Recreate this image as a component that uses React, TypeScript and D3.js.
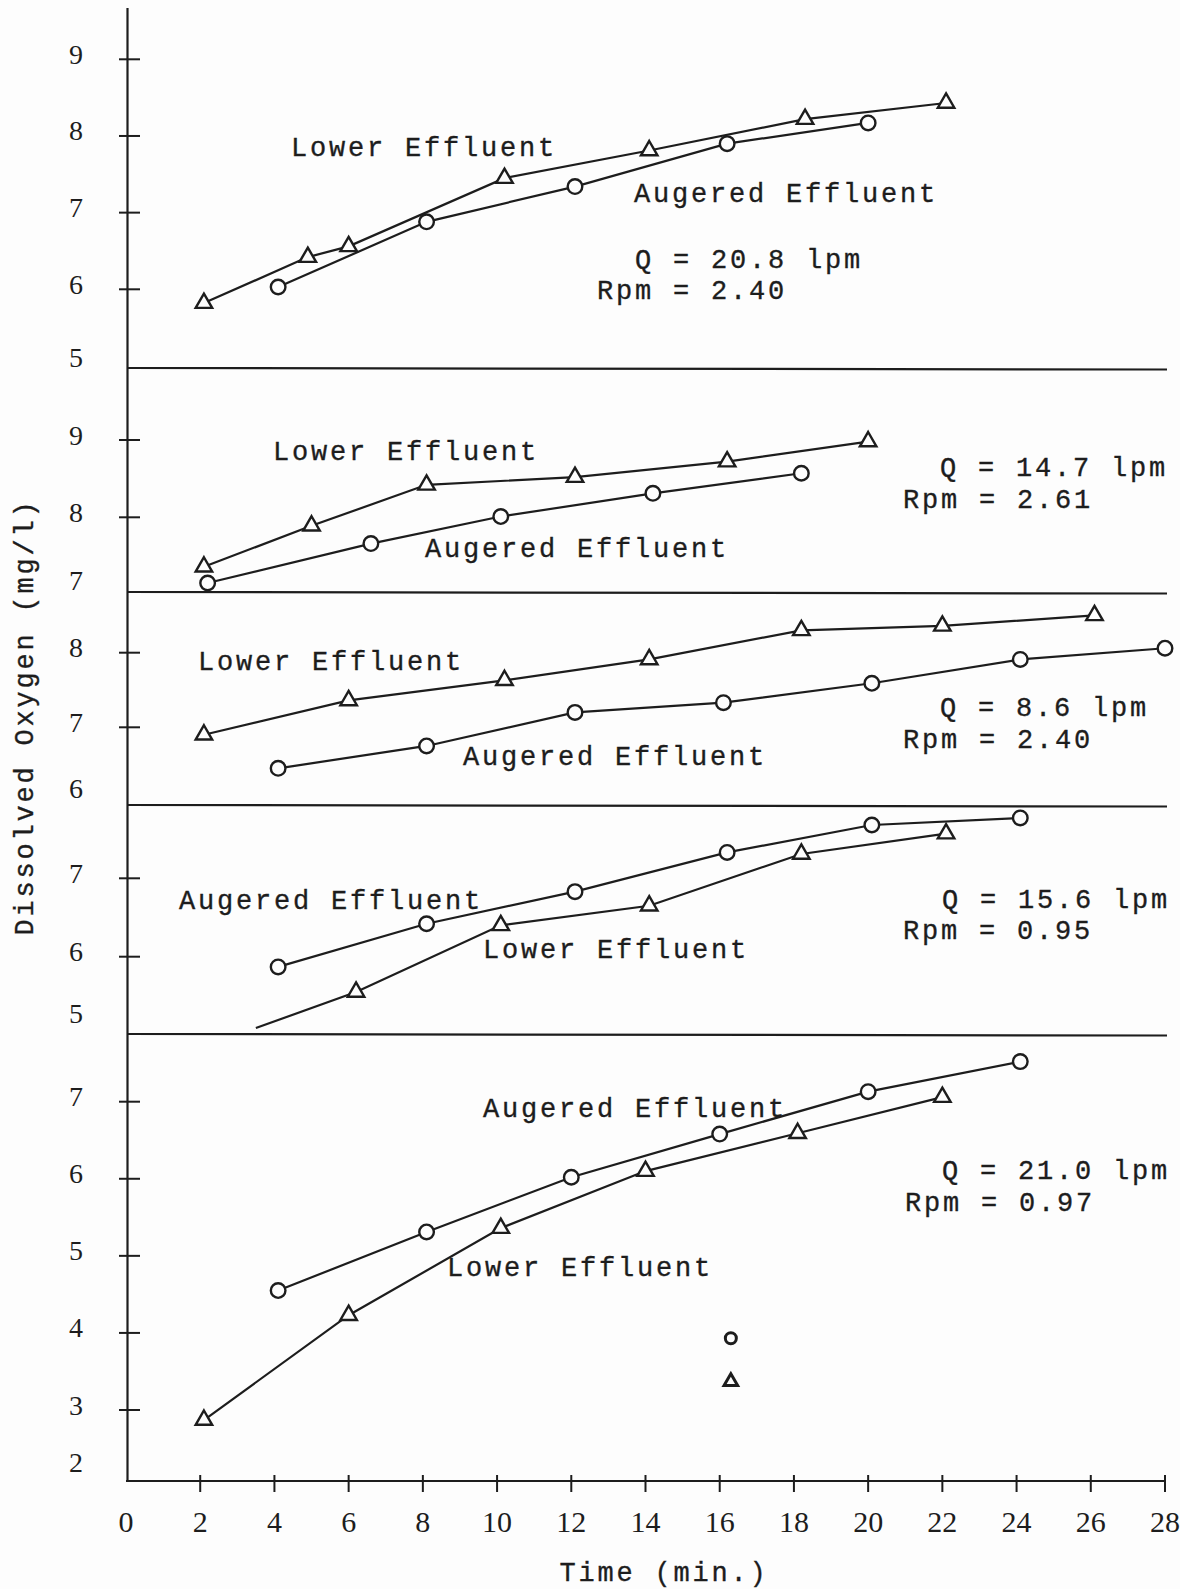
import React from 'react';
import * as d3 from 'd3';

// ---------- DATA ----------
const timeTicks = [0, 2, 4, 6, 8, 10, 12, 14, 16, 18, 20, 22, 24, 26, 28];

// Panel 1: Q = 20.8 lpm, Rpm = 2.40
const p1LowerT = [2.1, 4.9, 6.0, 10.2, 14.1, 18.3, 22.1];
const p1LowerDO = [5.82, 6.42, 6.56, 7.45, 7.81, 8.22, 8.43];
const p1AugT = [4.1, 8.1, 12.1, 16.2, 20.0];
const p1AugDO = [6.03, 6.88, 7.34, 7.9, 8.17];

// Panel 2: Q = 14.7 lpm, Rpm = 2.61
const p2LowerT = [2.1, 5.0, 8.1, 12.1, 16.2, 20.0];
const p2LowerDO = [7.36, 7.89, 8.42, 8.52, 8.72, 8.98];
const p2AugT = [2.2, 6.6, 10.1, 14.2, 18.2];
const p2AugDO = [7.15, 7.66, 8.01, 8.31, 8.57];

// Panel 3: Q = 8.6 lpm, Rpm = 2.40
const p3LowerT = [2.1, 6.0, 10.2, 14.1, 18.2, 22.0, 26.1];
const p3LowerDO = [6.9, 7.36, 7.63, 7.91, 8.3, 8.36, 8.5];
const p3AugT = [4.1, 8.1, 12.1, 16.1, 20.1, 24.1, 28.0];
const p3AugDO = [6.45, 6.75, 7.2, 7.33, 7.59, 7.91, 8.06];

// Panel 4: Q = 15.6 lpm, Rpm = 0.95 (first lower point is a line end without marker)
const p4LowerT = [3.5, 6.2, 10.1, 14.1, 18.2, 22.1];
const p4LowerDO = [5.09, 5.55, 6.4, 6.65, 7.31, 7.57];
const p4LowerMarked = [false, true, true, true, true, true];
const p4AugT = [4.1, 8.1, 12.1, 16.2, 20.1, 24.1];
const p4AugDO = [5.87, 6.42, 6.83, 7.33, 7.68, 7.77];

// Panel 5: Q = 21.0 lpm, Rpm = 0.97
const p5LowerT = [2.1, 6.0, 10.1, 14.0, 18.1, 22.0];
const p5LowerDO = [2.87, 4.23, 5.36, 6.1, 6.59, 7.06];
const p5AugT = [4.1, 8.1, 12.0, 16.0, 20.0, 24.1];
const p5AugDO = [4.55, 5.31, 6.02, 6.58, 7.13, 7.52];
const p5LoneAugT = [16.3];
const p5LoneAugDO = [3.93];
const p5LoneLowerT = [16.3];
const p5LoneLowerDO = [3.37];

const panelTicks = [
  [6, 7, 8, 9],
  [8, 9],
  [7, 8],
  [6, 7],
  [3, 4, 5, 6, 7],
];
const panelBottomLabels = ['5', '7', '6', '5', '2'];
const panelQ = ['Q = 20.8 lpm', 'Q = 14.7 lpm', 'Q = 8.6 lpm', 'Q = 15.6 lpm', 'Q = 21.0 lpm'];
const panelRpm = ['Rpm = 2.40', 'Rpm = 2.61', 'Rpm = 2.40', 'Rpm = 0.95', 'Rpm = 0.97'];
const lowerLabel = 'Lower Effluent';
const augLabel = 'Augered Effluent';
const yTitle = 'Dissolved Oxygen (mg/l)';
const xTitle = 'Time (min.)';

// ---------- LAYOUT ----------
const W = 1180;
const H = 1589;
const X0 = 126;
const X1 = 1165;
const AXIS_TOP = 8;
const AXIS_Y = 1481;
const AXIS_X = 127.5;
const INK = '#1d1d1d';
const PAPER = '#fdfdfd';

const layout = [
  { dom: [6, 9], rng: [289.3, 59.3], bottom: 368, bottomLabelY: 357, lower: [291, 149], aug: [634, 195], q: [635, 261], rpm: [597, 292] },
  { dom: [8, 9], rng: [517.3, 440], bottom: 592, bottomLabelY: 580, lower: [273, 453], aug: [425, 550], q: [940, 469], rpm: [903, 501] },
  { dom: [7, 8], rng: [727.3, 652.7], bottom: 805, bottomLabelY: 788, lower: [198, 663], aug: [463, 758], q: [940, 709], rpm: [903, 741] },
  { dom: [6, 7], rng: [956.7, 878.3], bottom: 1034, bottomLabelY: 1013, lower: [483, 951], aug: [179, 902], q: [942, 901], rpm: [903, 932] },
  { dom: [3, 7], rng: [1410, 1101.7], bottom: AXIS_Y, bottomLabelY: 1462, lower: [447, 1269], aug: [483, 1110], q: [942, 1172], rpm: [905, 1204] },
];

const series = [
  { lt: p1LowerT, lv: p1LowerDO, at: p1AugT, av: p1AugDO },
  { lt: p2LowerT, lv: p2LowerDO, at: p2AugT, av: p2AugDO },
  { lt: p3LowerT, lv: p3LowerDO, at: p3AugT, av: p3AugDO },
  { lt: p4LowerT, lv: p4LowerDO, at: p4AugT, av: p4AugDO, lm: p4LowerMarked },
  { lt: p5LowerT, lv: p5LowerDO, at: p5AugT, av: p5AugDO },
];

const monoFont = "'Liberation Mono', 'DejaVu Sans Mono', monospace";
const serifFont = "'Liberation Serif', 'DejaVu Serif', serif";

const xScale = d3.scaleLinear().domain([0, 28]).range([X0, X1]);
const triPath = d3.symbol().type(d3.symbolTriangle).size(118)() as string;
const smallTriPath = d3.symbol().type(d3.symbolTriangle).size(80)() as string;

function Annot({ x, y, text }: { x: number; y: number; text: string }) {
  return (
    <text
      x={x}
      y={y}
      fontFamily={monoFont}
      fontSize={27}
      letterSpacing={2.8}
      fill={INK}
      stroke={INK}
      strokeWidth={0.35}
      dominantBaseline="middle"
    >
      {text}
    </text>
  );
}

export default function App() {
  const line = d3.line<[number, number]>().x((d) => d[0]).y((d) => d[1]);
  return (
    <svg
      width={W}
      height={H}
      viewBox={`0 0 ${W} ${H}`}
      style={{ position: 'absolute', left: 0, top: 0, display: 'block', background: PAPER }}
    >
      <rect x={0} y={0} width={W} height={H} fill={PAPER} />
      {/* y axis */}
      <line x1={AXIS_X} y1={AXIS_TOP} x2={AXIS_X} y2={AXIS_Y} stroke={INK} strokeWidth={2.2} />
      {/* x axis */}
      <line x1={X0} y1={AXIS_Y} x2={X1} y2={AXIS_Y} stroke={INK} strokeWidth={2.2} />
      {timeTicks.map((t) => (
        <g key={'xt' + t}>
          {t > 0 && <line x1={xScale(t)} x2={xScale(t)} y1={AXIS_Y - 6} y2={AXIS_Y + 11} stroke={INK} strokeWidth={2} />}
          <text x={xScale(t)} y={1532} textAnchor="middle" fontFamily={serifFont} fontSize={30} fill={INK}>
            {t}
          </text>
        </g>
      ))}
      <text
        x={664}
        y={1581}
        textAnchor="middle"
        fontFamily={monoFont}
        fontSize={27}
        letterSpacing={2.8}
        fill={INK}
        stroke={INK}
        strokeWidth={0.35}
      >
        {xTitle}
      </text>
      <text
        transform="translate(33,717) rotate(-90)"
        textAnchor="middle"
        fontFamily={monoFont}
        fontSize={27}
        letterSpacing={2.8}
        fill={INK}
        stroke={INK}
        strokeWidth={0.35}
      >
        {yTitle}
      </text>

      {layout.map((L, i) => {
        const y = d3.scaleLinear().domain(L.dom).range(L.rng);
        const s = series[i];
        const lowerPts = s.lt.map((t, k) => [xScale(t), y(s.lv[k])] as [number, number]);
        const augPts = s.at.map((t, k) => [xScale(t), y(s.av[k])] as [number, number]);
        return (
          <g key={'p' + i}>
            {i < 4 && <line x1={AXIS_X} x2={1167} y1={L.bottom} y2={L.bottom + 1.5} stroke={INK} strokeWidth={2.2} />}
            {panelTicks[i].map((v) => (
              <g key={'yt' + v}>
                <line x1={119} x2={140} y1={y(v)} y2={y(v)} stroke={INK} strokeWidth={2} />
                <text x={76} y={y(v) - 5} textAnchor="middle" dominantBaseline="central" fontFamily={serifFont} fontSize={28} fill={INK}>
                  {v}
                </text>
              </g>
            ))}
            <text x={76} y={L.bottomLabelY} textAnchor="middle" dominantBaseline="central" fontFamily={serifFont} fontSize={28} fill={INK}>
              {panelBottomLabels[i]}
            </text>
            <path d={line(lowerPts) || ''} fill="none" stroke={INK} strokeWidth={2.2} />
            <path d={line(augPts) || ''} fill="none" stroke={INK} strokeWidth={2.2} />
            {lowerPts.map((p, k) =>
              s.lm && !s.lm[k] ? null : (
                <path key={'lt' + k} d={triPath} transform={`translate(${p[0]},${p[1]})`} fill={PAPER} stroke={INK} strokeWidth={2.4} />
              )
            )}
            {augPts.map((p, k) => (
              <circle key={'ac' + k} cx={p[0]} cy={p[1]} r={7.3} fill={PAPER} stroke={INK} strokeWidth={2.4} />
            ))}
            {i === 4 && (
              <g>
                {p5LoneAugT.map((t, k) => (
                  <circle key={'la' + k} cx={xScale(t)} cy={y(p5LoneAugDO[k])} r={5.5} fill={PAPER} stroke={INK} strokeWidth={3} />
                ))}
                {p5LoneLowerT.map((t, k) => (
                  <path
                    key={'ll' + k}
                    d={smallTriPath}
                    transform={`translate(${xScale(t)},${y(p5LoneLowerDO[k])})`}
                    fill={PAPER}
                    stroke={INK}
                    strokeWidth={3}
                  />
                ))}
              </g>
            )}
            <Annot x={L.lower[0]} y={L.lower[1]} text={lowerLabel} />
            <Annot x={L.aug[0]} y={L.aug[1]} text={augLabel} />
            <Annot x={L.q[0]} y={L.q[1]} text={panelQ[i]} />
            <Annot x={L.rpm[0]} y={L.rpm[1]} text={panelRpm[i]} />
          </g>
        );
      })}
    </svg>
  );
}
